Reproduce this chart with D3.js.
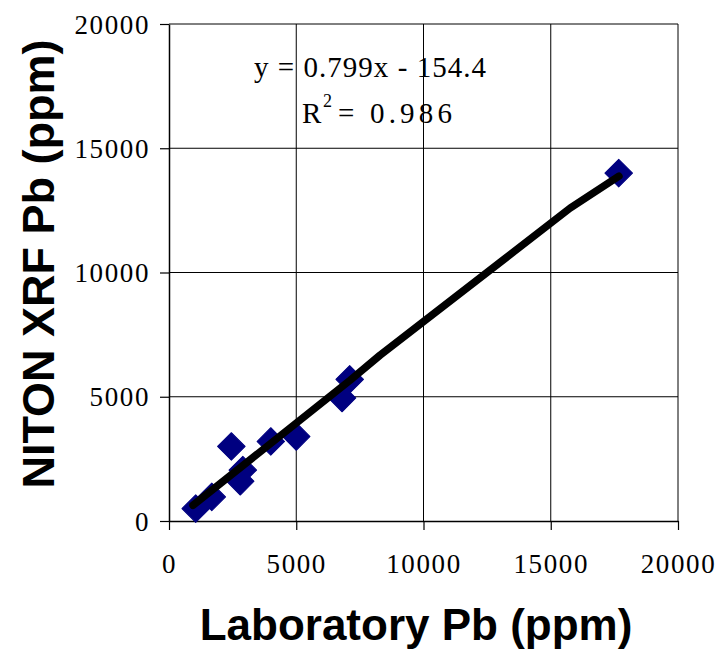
<!DOCTYPE html>
<html>
<head>
<meta charset="utf-8">
<script src="https://cdn.jsdelivr.net/npm/d3@7"></script>
<style>
  html, body { margin: 0; padding: 0; background: #fff; }
  svg { display: block; }
</style>
</head>
<body>
<svg id="chart" width="717" height="652"></svg>
<script>
// ---- data ----
const labX = [1050, 1680, 2450, 2800, 2900, 4000, 5000, 6800, 7100, 17670];
const xrfY = [500, 970, 3000, 1600, 2050, 3200, 3400, 4950, 5700, 14000];
const trendX = [943, 7110, 8290, 15760, 17680];
const trendY = [632, 5660, 6670, 12590, 13875];
const xTicks = [0, 5000, 10000, 15000, 20000];
const yTicks = [0, 5000, 10000, 15000, 20000];
const equationText = "y = 0.799x - 154.4";
const r2Value = "= 0.986";
const xTitle = "Laboratory Pb (ppm)";
const yTitle = "NITON XRF Pb (ppm)";

const svg = d3.select("#chart");
const L = 169, R = 678, T = 24, B = 521;
const x = d3.scaleLinear().domain([0, 20000]).range([L, R]);
const y = d3.scaleLinear().domain([0, 20000]).range([B, T]);

// gridlines
svg.append("g").selectAll("line.h").data(yTicks.slice(1, -1)).join("line")
  .attr("x1", L).attr("x2", R).attr("y1", d => y(d)).attr("y2", d => y(d))
  .attr("stroke", "#000").attr("stroke-width", 1);
svg.append("g").selectAll("line.v").data(xTicks.slice(1, -1)).join("line")
  .attr("y1", T).attr("y2", B).attr("x1", d => x(d)).attr("x2", d => x(d))
  .attr("stroke", "#000").attr("stroke-width", 1);
// plot border (top/right)
svg.append("line").attr("x1", L).attr("x2", R).attr("y1", T).attr("y2", T).attr("stroke", "#000");
svg.append("line").attr("x1", R).attr("x2", R).attr("y1", T).attr("y2", B).attr("stroke", "#000");

// axes
const yAxis = d3.axisLeft(y).tickValues(yTicks).tickSize(9).tickSizeOuter(0).tickFormat(d3.format("d"));
const xAxis = d3.axisBottom(x).tickValues(xTicks).tickSize(9).tickSizeOuter(0).tickFormat(d3.format("d"));
const gy = svg.append("g").attr("transform", `translate(${L},0)`).call(yAxis);
const gx = svg.append("g").attr("transform", `translate(0,${B})`).call(xAxis);
[gy, gx].forEach(g => {
  g.select(".domain").attr("stroke", "#000").attr("stroke-width", 1.5);
  g.selectAll(".tick line").attr("stroke", "#000").attr("stroke-width", 1.2);
  g.selectAll(".tick text")
    .attr("font-family", "'Liberation Serif', 'Times New Roman', serif")
    .attr("font-size", 27).attr("fill", "#000")
    .style("letter-spacing", "1.6px");
});
gy.selectAll(".tick text").attr("x", -19).attr("dy", "0.34em");
gx.selectAll(".tick text").attr("y", 33).attr("dy", "0.71em").attr("dx", 0);

// points
const sym = d3.symbol().type(d3.symbolSquare).size(19.5 * 19.5);
svg.append("g").selectAll("path").data(labX.map((v, i) => [v, xrfY[i]])).join("path")
  .attr("d", sym)
  .attr("transform", d => `translate(${x(d[0])},${y(d[1])}) rotate(45)`)
  .attr("fill", "#000080").attr("stroke", "#000080").attr("stroke-width", 1)
  .attr("stroke-linejoin", "round");

// trend line
const line = d3.line().x(d => x(d[0])).y(d => y(d[1]));
svg.append("path").datum(trendX.map((v, i) => [v, trendY[i]]))
  .attr("d", line).attr("fill", "none").attr("stroke", "#000")
  .attr("stroke-width", 7.5).attr("stroke-linecap", "round").attr("stroke-linejoin", "round");

// equation
const serif = "'Liberation Serif', 'Times New Roman', serif";
svg.append("text").attr("x", 254).attr("y", 77).attr("font-family", serif).attr("font-size", 29)
  .attr("textLength", 232).attr("lengthAdjust", "spacing").text(equationText);
svg.append("text").attr("x", 302).attr("y", 123).attr("font-family", serif).attr("font-size", 29).text("R");
svg.append("text").attr("x", 323).attr("y", 107).attr("font-family", serif).attr("font-size", 18).text("2");
svg.append("text").attr("x", 338).attr("y", 123).attr("font-family", serif).attr("font-size", 29)
  .attr("textLength", 114).attr("lengthAdjust", "spacing").text(r2Value);

// axis titles
const sans = "'Liberation Sans', Arial, sans-serif";
svg.append("text").attr("x", 416).attr("y", 640).attr("text-anchor", "middle")
  .attr("font-family", sans).attr("font-weight", "bold").attr("font-size", 44).text(xTitle);
svg.append("text").attr("transform", "translate(54,264) rotate(-90)").attr("text-anchor", "middle")
  .attr("font-family", sans).attr("font-weight", "bold").attr("font-size", 45).text(yTitle);
</script>
</body>
</html>
